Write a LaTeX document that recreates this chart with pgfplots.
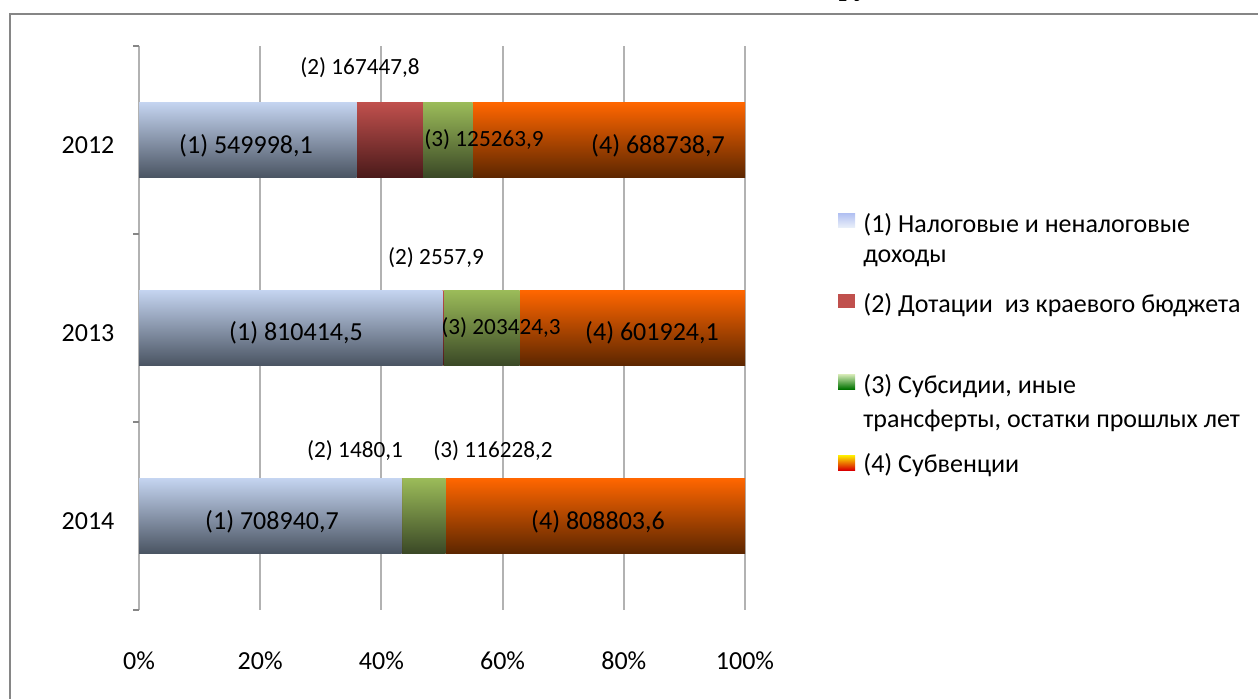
\documentclass[border=0pt]{standalone}
\usepackage{fontspec}
\setmainfont{Carlito}
\newfontfamily\titlefont{Liberation Serif}
\usepackage{pgfplots}
\usepackage{pgfplotstable}
\pgfplotsset{compat=1.18}
\definecolor{framegray}{RGB}{134,134,134}
\definecolor{gridgray}{RGB}{178,178,178}
\definecolor{sAtop}{RGB}{196,212,240}
\definecolor{sAmid}{RGB}{240,250,255}
\definecolor{sAbot}{RGB}{74,84,98}
\definecolor{sBtop}{RGB}{192,80,77}
\definecolor{sBmid}{RGB}{240,122,122}
\definecolor{sBbot}{RGB}{74,26,26}
\definecolor{sCtop}{RGB}{155,187,89}
\definecolor{sCmid}{RGB}{200,228,155}
\definecolor{sCbot}{RGB}{58,72,38}
\definecolor{sDtop}{RGB}{255,102,0}
\definecolor{sDmid}{RGB}{255,140,40}
\definecolor{sDbot}{RGB}{92,38,0}
% one small table per year: position, four parts, total
\pgfplotstableread{
idx v1 v2 v3 v4 tot
0 549998.1 167447.8 125263.9 688738.7 1531448.5
}\yTwelve
\pgfplotstableread{
idx v1 v2 v3 v4 tot
1 810414.5 2557.9 203424.3 601924.1 1618320.8
}\yThirteen
\pgfplotstableread{
idx v1 v2 v3 v4 tot
2 708940.7 1480.1 116228.2 808803.6 1635452.6
}\yFourteen
\newcommand{\bigf}{\fontsize{13}{15}\selectfont}
\newcommand{\smf}{\fontsize{11.6}{14}\selectfont}
\pgfplotsset{
  base/.style={
    at={(69.5pt,44pt)}, anchor=south west,
    scale only axis, width=303pt, height=282pt,
    xbar stacked, bar width=37.5pt,
    xmin=0, xmax=100, ymin=-0.5, ymax=2.5,
    y dir=reverse,
  },
  sA/.style={draw=none, top color=sAtop, middle color=sAmid, bottom color=sAbot},
  sB/.style={draw=none, top color=sBtop, middle color=sBmid, bottom color=sBbot},
  sC/.style={draw=none, top color=sCtop, middle color=sCmid, bottom color=sCbot},
  sD/.style={draw=none, top color=sDtop, middle color=sDmid, bottom color=sDbot},
}
% one year as four stacked bars, each with its own shading
\newcommand{\yearbars}[1]{%
  \addplot[sA] table[y=idx, x expr=100*\thisrow{v1}/\thisrow{tot}] {#1};
  \addplot[sB] table[y=idx, x expr=100*\thisrow{v2}/\thisrow{tot}] {#1};
  \addplot[sC] table[y=idx, x expr=100*\thisrow{v3}/\thisrow{tot}] {#1};
  \addplot[sD] table[y=idx, x expr=100*\thisrow{v4}/\thisrow{tot}] {#1};
}
\begin{document}
\begin{tikzpicture}
\useasboundingbox (0,0) rectangle (629pt,349pt);
\clip (0,0) rectangle (629pt,349pt);
\begin{scope}[x=0.5pt,y=0.5pt]
\draw[framegray, line width=1pt] (10,-30) rectangle (1300,684);
\node[anchor=base west, inner sep=0, font=\titlefont\bfseries\fontsize{14}{16}\selectfont] at (760,702) {, тыс. руб.};
\end{scope}
\begin{axis}[
  base,
  ytick={0,1,2}, yticklabels={2012,2013,2014},
  minor ytick={-0.5,0.5,1.5,2.5},
  xtick={0,20,40,60,80,100},
  xticklabel={\pgfmathprintnumber{\tick}\%},
  /pgf/number format/assume math mode=true,
  xmajorgrids, grid style={gridgray, line width=1pt},
  axis line style={draw=none},
  major tick style={draw=none},
  minor y tick style={draw=framegray, line width=0.8pt},
  minor tick length=3pt,
  tick align=outside, tick pos=left,
  ticklabel style={font=\bigf},
  yticklabel style={xshift=-4.5pt, yshift=-2.5pt},
  xticklabel style={yshift=-13pt},
]
\yearbars{\yTwelve}
\end{axis}
\begin{axis}[base, hide axis]
\yearbars{\yThirteen}
\end{axis}
\begin{axis}[base, hide axis]
\yearbars{\yFourteen}
\end{axis}
\begin{scope}[x=0.5pt,y=0.5pt]
% bar labels
\node[anchor=base, inner sep=0, font=\bigf] at (246,544.5) {(1) 549998,1};
\node[anchor=base, inner sep=0, font=\bigf] at (658,544.5) {(4) 688738,7};
\node[anchor=base, inner sep=0, font=\bigf] at (296,357.5) {(1) 810414,5};
\node[anchor=base, inner sep=0, font=\bigf] at (652,357.5) {(4) 601924,1};
\node[anchor=base, inner sep=0, font=\bigf] at (272,168.5) {(1) 708940,7};
\node[anchor=base, inner sep=0, font=\bigf] at (598,168.5) {(4) 808803,6};
\node[anchor=base, inner sep=0, font=\smf] at (360,623.5) {(2) 167447,8};
\node[anchor=base, inner sep=0, font=\smf] at (484,551.5) {(3) 125263,9};
\node[anchor=base, inner sep=0, font=\smf] at (436,433.5) {(2) 2557,9};
\node[anchor=base, inner sep=0, font=\smf] at (501,363.5) {(3) 203424,3};
\node[anchor=base, inner sep=0, font=\smf] at (355,240.5) {(2) 1480,1};
\node[anchor=base, inner sep=0, font=\smf] at (493,240.5) {(3) 116228,2};
% legend
\shade[top color=sAtop!90!blue, bottom color=sAtop!40!white] (838,471) rectangle (855,485);
\fill[sBtop] (838,390) rectangle (855,404);
\shade[top color=sCmid!70!white, bottom color=green!45!black] (838,309) rectangle (855,324);
\shade[top color=yellow!90!orange, middle color=orange, bottom color=red!85!black] (838,228) rectangle (855,243);
\node[anchor=base west, inner sep=0, font=\bigf] at (863,466) {(1) Налоговые и неналоговые};
\node[anchor=base west, inner sep=0, font=\bigf] at (863,436) {доходы};
\node[anchor=base west, inner sep=0, font=\bigf] at (863,386) {(2) Дотации\ \ из краевого бюджета};
\node[anchor=base west, inner sep=0, font=\bigf] at (863,305) {(3) Субсидии, иные};
\node[anchor=base west, inner sep=0, font=\bigf] at (863,271) {трансферты, остатки прошлых лет};
\node[anchor=base west, inner sep=0, font=\bigf] at (863,226) {(4) Субвенции};
\end{scope}
\end{tikzpicture}
\end{document}
